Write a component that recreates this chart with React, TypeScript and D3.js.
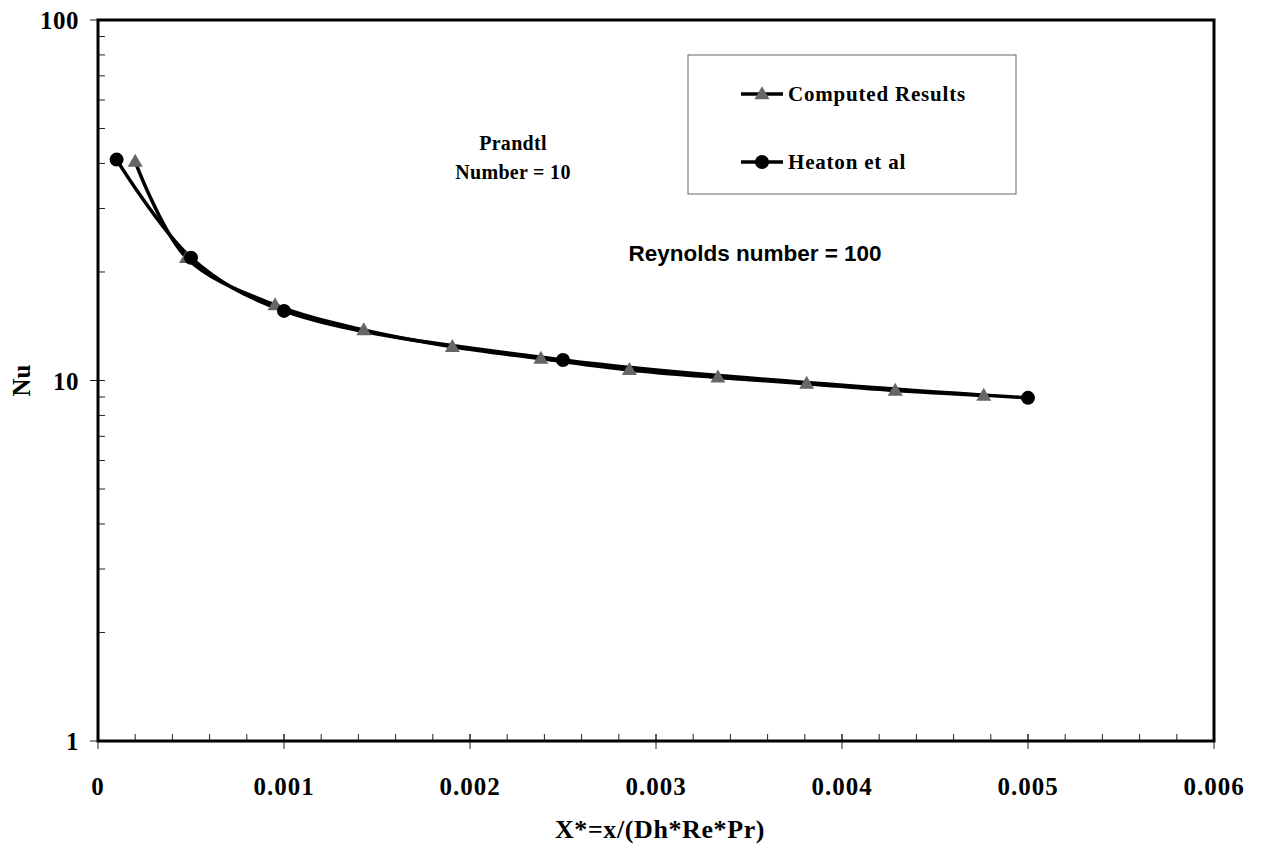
import React from "react";
import * as d3 from "d3";

const computedX = [0.0002, 0.000476, 0.000952, 0.001429, 0.001905, 0.002381, 0.002857, 0.003333, 0.00381, 0.004286, 0.004762];
const computedNu = [40.5, 21.9, 16.2, 13.8, 12.4, 11.5, 10.7, 10.2, 9.8, 9.38, 9.09];
const heatonX = [0.0001, 0.0005, 0.001, 0.0025, 0.005];
const heatonNu = [41.0, 21.9, 15.6, 11.4, 8.95];
const xTicks = [0, 0.001, 0.002, 0.003, 0.004, 0.005, 0.006];
const xTickLabels = ["0", "0.001", "0.002", "0.003", "0.004", "0.005", "0.006"];
const yTicks = [1, 10, 100];
const yTickLabels = ["1", "10", "100"];

const W = 1264, H = 844;
const L = 98, R = 1214, T = 20, B = 741;
const serif = "'Liberation Serif', 'Times New Roman', serif";
const sans = "'Liberation Sans', Arial, sans-serif";

export default function App() {
  const x = d3.scaleLinear().domain([0, 0.006]).range([L, R]);
  const y = d3.scaleLog().domain([1, 100]).range([B, T]);
  const line = d3
    .line<[number, number]>()
    .x((d) => x(d[0]))
    .y((d) => y(d[1]))
    .curve(d3.curveCatmullRom.alpha(0.5));
  const comp: [number, number][] = computedX.map((v, i) => [v, computedNu[i]]);
  const heat: [number, number][] = heatonX.map((v, i) => [v, heatonNu[i]]);
  const xMinor = d3.range(0, 0.00601, 0.0002);
  const yMinor: number[] = [];
  for (const dec of [1, 10]) for (let k = 2; k <= 9; k++) yMinor.push(dec * k);
  const tri = (cx: number, cy: number, s = 15) => {
    const h = (s * Math.sqrt(3)) / 2;
    return `M${cx},${cy - h * 0.6}L${cx + s / 2},${cy + h * 0.4}L${cx - s / 2},${cy + h * 0.4}Z`;
  };
  return (
    <svg width={W} height={H} style={{ position: "absolute", left: 0, top: 0, background: "#fff" }}>
      <rect x={0} y={0} width={W} height={H} fill="#fff" />
      {xMinor.map((v, i) => (
        <line key={"xm" + i} x1={x(v)} x2={x(v)} y1={B} y2={B - 7} stroke="#222" strokeWidth={1} />
      ))}
      {xTicks.map((v, i) => (
        <line key={"xM" + i} x1={x(v)} x2={x(v)} y1={B - 7} y2={B + 8} stroke="#222" strokeWidth={1} />
      ))}
      {yMinor.map((v, i) => (
        <line key={"ym" + i} x1={L} x2={L + 7} y1={y(v)} y2={y(v)} stroke="#222" strokeWidth={1} />
      ))}
      {yTicks.map((v, i) => (
        <line key={"yM" + i} x1={L - 8} x2={L + 7} y1={y(v)} y2={y(v)} stroke="#222" strokeWidth={1} />
      ))}
      <rect x={L} y={T} width={R - L} height={B - T} fill="none" stroke="#000" strokeWidth={3} />
      {xTicks.map((v, i) => (
        <text key={"xl" + i} x={x(v)} y={795} textAnchor="middle" fontFamily={serif} fontWeight="bold" fontSize={25} letterSpacing={1} fill="#000">
          {xTickLabels[i]}
        </text>
      ))}
      {yTicks.map((v, i) => (
        <text key={"yl" + i} x={79} y={y(v) + 9} textAnchor="end" fontFamily={serif} fontWeight="bold" fontSize={25} letterSpacing={0.5} fill="#000">
          {yTickLabels[i]}
        </text>
      ))}
      <text x={660} y={838} textAnchor="middle" fontFamily={serif} fontWeight="bold" fontSize={26} letterSpacing={0.6} fill="#000">
        X*=x/(Dh*Re*Pr)
      </text>
      <text transform={`translate(30,${y(10)}) rotate(-90)`} textAnchor="middle" fontFamily={serif} fontWeight="bold" fontSize={25} fill="#000">
        Nu
      </text>
      <path d={line(heat) || ""} fill="none" stroke="#000" strokeWidth={3.5} />
      <path d={line(comp) || ""} fill="none" stroke="#000" strokeWidth={3.5} />
      {comp.map((d, i) => (
        <path key={"ct" + i} d={tri(x(d[0]), y(d[1]))} fill="#666" />
      ))}
      {heat.map((d, i) => (
        <circle key={"hc" + i} cx={x(d[0])} cy={y(d[1])} r={7} fill="#000" />
      ))}
      <text x={513} y={150} textAnchor="middle" fontFamily={serif} fontWeight="bold" fontSize={20} letterSpacing={0.3} fill="#000">
        Prandtl
      </text>
      <text x={513} y={179} textAnchor="middle" fontFamily={serif} fontWeight="bold" fontSize={20} letterSpacing={0.3} fill="#000">
        Number = 10
      </text>
      <text x={755} y={261} textAnchor="middle" fontFamily={sans} fontWeight="bold" fontSize={22.5} fill="#000">
        Reynolds number = 100
      </text>
      <rect x={688} y={55} width={328} height={139} fill="#fff" stroke="#666" strokeWidth={1} />
      <line x1={741} x2={783} y1={94} y2={94} stroke="#000" strokeWidth={3.5} />
      <path d={tri(762, 94)} fill="#666" />
      <text x={788} y={101} fontFamily={serif} fontWeight="bold" fontSize={21} letterSpacing={0.8} fill="#000">
        Computed Results
      </text>
      <line x1={741} x2={783} y1={162} y2={162} stroke="#000" strokeWidth={3.5} />
      <circle cx={762} cy={162} r={7} fill="#000" />
      <text x={788} y={169} fontFamily={serif} fontWeight="bold" fontSize={21} letterSpacing={0.8} fill="#000">
        Heaton et al
      </text>
    </svg>
  );
}
